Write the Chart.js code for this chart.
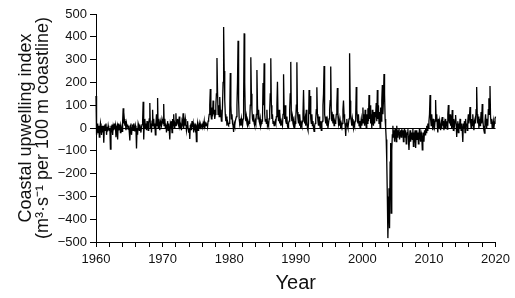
<!DOCTYPE html>
<html>
<head>
<meta charset="utf-8">
<script src="https://cdn.jsdelivr.net/npm/chart.js@4"></script>
<style>
  html, body { margin: 0; padding: 0; background: #fff; }
  #wrap { width: 515px; height: 298px; }
</style>
</head>
<body>
<div id="wrap"><canvas id="upwelling"></canvas></div>
<script>
// monthly coastal upwelling index (Jan..Dec per row)
const startYear = 1960;

const cui1960s = [
  140, -30, -10, 20, -20, 10, -40, 0, 20, -10, -30, 10,
  -20, 10, -65, 0, 15, -10, 20, -30, 5, -15, 10, -5,
  -10, 0, -93, 10, -20, 15, -30, 5, -10, 20, -5, 10,
  -40, 0, 10, -50, 20, -10, 5, 15, -20, 10, 0, -15,
  30, 87, 20, 40, 10, 30, -10, 20, 5, 15, -5, 10,
  -20, -55, 10, 20, -30, 0, 15, -10, 20, 0, -15, 10,
  -5, -90, 0, -30, 20, 10, -10, 15, 0, -20, 5, 15,
  30, 115, -50, 20, 40, 0, 20, -10, 30, 10, -10, 20,
  40, 110, 0, 20, -20, 30, 80, 10, 40, 0, 20, -30,
  20, 60, 10, 132, 0, 40, 10, -10, 30, 20, 10, 40
];
const cui1970s = [
  30, 20, 105, 10, 40, 0, 20, -20, 10, 30, -10, 20,
  -10, -50, 20, 10, 30, -20, 40, 10, 60, 0, 20, 10,
  65, 10, 30, 40, 20, 10, 50, 0, 20, 10, -10, 30,
  20, 65, 0, 30, 10, 40, 20, -10, 10, 30, 0, -20,
  0, -48, 10, 20, -10, 30, 5, 20, -20, 10, 0, 15,
  10, -60, 0, 20, -10, 5, 20, 0, 15, -5, 10, 20,
  5, 20, 10, 30, 0, 15, 25, 10, 20, 5, 30, 40,
  60, 100, 171, 60, 40, 90, 50, 120, 60, 80, 40, 60,
  100, 150, 307, 160, 60, 100, 50, 136, 80, 60, 30, 40,
  100, 200, 443, 250, 123, 60, 30, 50, 10, 30, 20, 15
];
const cui1980s = [
  20, 60, 241, 100, 40, 60, 20, 10, -17, 20, 10, 30,
  30, 50, 100, 200, 383, 120, 40, 20, 30, 10, 40, 20,
  10, 40, 120, 415, 200, 60, 30, 50, 20, 10, 30, 20,
  20, 30, 100, 310, 150, 80, 40, 30, 60, 20, 10, 30,
  20, 60, 254, 100, 40, 80, 30, 20, 40, 10, 20, 30,
  30, 197, 100, 284, 60, 30, 40, 20, 80, 10, 20, 10,
  40, 80, 150, 306, 100, 40, 60, 20, 30, 10, 20, 30,
  20, 50, 100, 203, 60, 30, 80, 20, 40, 10, 30, 20,
  10, 60, 236, 80, 40, 100, 30, 20, 50, 10, 0, 20,
  30, 80, 150, 290, 60, 30, 50, 20, 10, 30, 0, 20
];
const cui1990s = [
  40, 100, 288, 70, 40, 20, 60, 10, 30, 0, 20, 10,
  30, 60, 167, 50, 20, 40, 10, 80, 30, 0, -10, 20,
  167, 60, 140, 40, 20, 60, 10, 30, 0, -15, 10, 20,
  40, 80, 179, 60, 30, 10, 50, 20, 0, 30, -10, 20,
  30, 100, 150, 272, 60, 40, 20, 50, 10, 30, 0, 20,
  40, 80, 120, 270, 70, 30, 50, 20, 60, 10, 30, 20,
  30, 60, 100, 175, 50, 20, 40, 10, 30, 0, 20, 10,
  20, 80, 120, 60, 30, 10, -35, 20, 40, 10, 0, 20,
  40, 328, 120, 60, 30, 10, 40, 20, 0, 20, 10, 30,
  50, 180, 80, 40, 20, 60, 10, 30, 0, 20, 40, 10
];
const cui2000s = [
  30, 90, 20, 60, 10, 80, 40, 0, 60, 20, 87, 30,
  145, 40, 100, 20, 60, 0, 80, 30, 10, 70, 20, 50,
  60, 110, 30, 167, 40, 100, 20, 70, 0, 90, 30, 120,
  189, 60, 120, 237, 150, 40, 0, -50, -150, -300, -483, -350,
  -264, -440, -150, -66, -373, -100, -30, 10, -40, -10, -60, 0,
  -20, -60, 10, -40, -10, -30, 0, -50, -20, -10, -40, -5,
  -30, -10, -60, -20, 0, -40, -10, -70, -30, -20, -5, -50,
  -96, -40, -10, -60, -30, -20, -50, 0, -80, -20, -40, -10,
  -88, -30, -10, -50, -20, -70, -30, 0, -40, -60, -20, -30,
  -96, -50, -20, -60, -10, -30, 0, -20, 10, -10, 20, 0
];
const cui2010s = [
  30, 60, 145, 40, 10, 60, 20, -10, 40, 10, 0, 30,
  123, 30, 60, 10, -20, 40, 0, 30, 10, -10, 20, 0,
  48, 10, 30, -10, 20, 0, 40, 10, 30, -5, 60, 101,
  40, 20, 60, 10, 30, 0, 79, 20, -10, 40, 10, 30,
  57, 20, -39, 10, 30, -20, 20, 0, 40, 10, -10, 20,
  -10, -61, 20, 0, 30, -20, 40, 10, 20, -10, 30, 60,
  20, 50, 92, 30, 0, 40, 10, 60, 20, -10, 30, 40,
  20, 80, 180, 60, 20, 50, 0, 40, 10, 30, 70, 20,
  105, 40, 10, -10, -22, 30, 60, 20, 0, 40, 10, 80,
  130, 60, 184, 50, 20, 40, 0, 10, 30, 0, 20, 40
];
const cui2020 = [50, 70, 60];

const yearTicks = [1960, 1962, 1964, 1966, 1968, 1970, 1972, 1974, 1976, 1978, 1980,
  1982, 1984, 1986, 1988, 1990, 1992, 1994, 1996, 1998, 2000, 2002, 2004, 2006, 2008,
  2010, 2012, 2014, 2016, 2018, 2020];
const yearLabels = [1960, 1970, 1980, 1990, 2000, 2010, 2020];
const indexTicks = [-500, -400, -300, -200, -100, 0, 100, 200, 300, 400, 500];

const monthly = [...cui1960s, ...cui1970s, ...cui1980s, ...cui1990s, ...cui2000s, ...cui2010s, ...cui2020];
const points = monthly.map((v, i) => ({x: startYear + i / 12, y: v}));

const fontFam = '"Liberation Sans", Arial, sans-serif';

new Chart(document.getElementById('upwelling'), {
  type: 'line',
  data: {
    datasets: [{
      data: points,
      borderColor: '#000',
      borderWidth: 1.3,
      pointRadius: 0,
      tension: 0,
      clip: false
    }]
  },
  options: {
    responsive: true,
    maintainAspectRatio: false,
    animation: false,
    events: [],
    layout: { padding: { top: 14, right: 18, left: 0, bottom: 0 } },
    plugins: { legend: { display: false }, tooltip: { enabled: false } },
    scales: {
      x: {
        type: 'linear',
        min: 1960,
        max: 2020,
        afterBuildTicks: (scale) => { scale.ticks = yearTicks.map(v => ({value: v})); },
        afterFit: (scale) => { scale.height = 56; },
        border: { display: true, color: '#000', width: 1 },
        grid: { drawOnChartArea: false, drawTicks: true, tickLength: 5, tickColor: '#000' },
        ticks: {
          color: '#111',
          font: { family: fontFam, size: 13 },
          padding: 5,
          maxRotation: 0,
          autoSkip: false,
          callback: (v) => yearLabels.includes(v) ? String(v) : ''
        },
        title: {
          display: true,
          text: 'Year',
          color: '#111',
          font: { family: fontFam, size: 20 },
          padding: { top: 0, bottom: 3 }
        }
      },
      y: {
        min: -500,
        max: 500,
        afterBuildTicks: (scale) => { scale.ticks = indexTicks.map(v => ({value: v})); },
        afterFit: (scale) => { scale.width = 96; },
        border: { display: true, color: '#000', width: 1 },
        grid: {
          drawOnChartArea: true,
          drawTicks: true,
          tickLength: 6,
          tickColor: '#000',
          color: (ctx) => ctx.tick && ctx.tick.value === 0 ? '#000' : 'rgba(0,0,0,0)',
          lineWidth: 1
        },
        ticks: {
          color: '#111',
          font: { family: fontFam, size: 13 },
          padding: 3,
          autoSkip: false,
          callback: (v) => v < 0 ? '\u2212' + Math.abs(v) : String(v)
        },
        title: {
          display: true,
          text: ['Coastal upwelling index', '(m\u00B3\u00B7s\u207B\u00B9 per 100 m coastline)'],
          color: '#111',
          font: { family: fontFam, size: 18, lineHeight: 0.95 },
          padding: { top: 17, bottom: 0 }
        }
      }
    }
  }
});
</script>
</body>
</html>
